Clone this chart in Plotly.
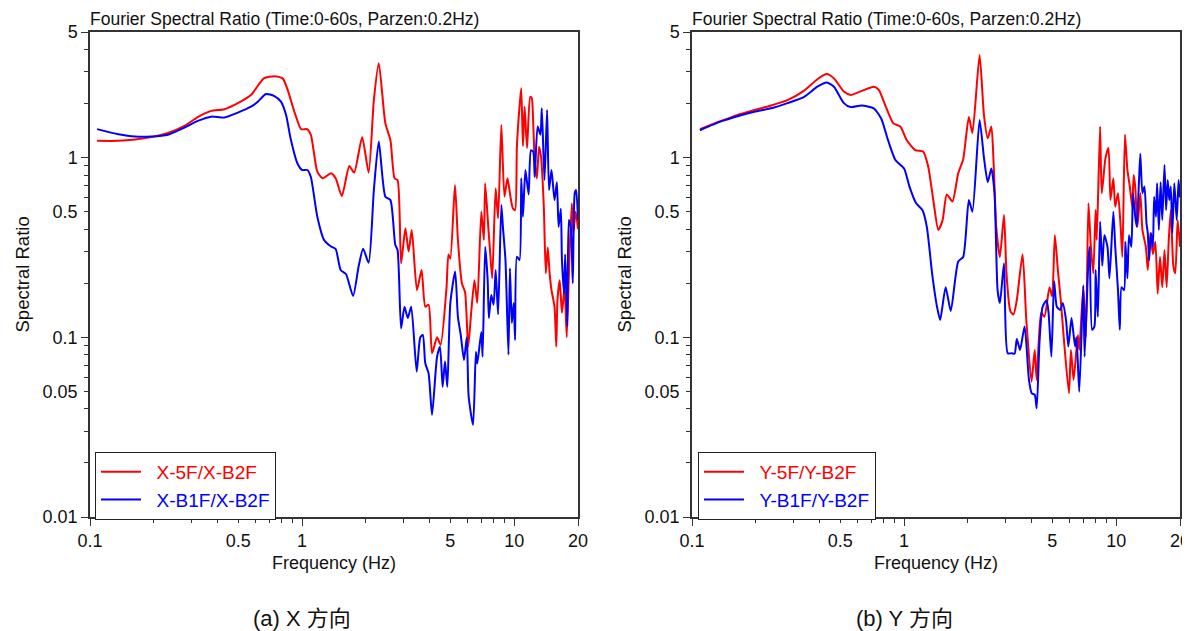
import plotly.graph_objects as go

# ---------------- data ----------------
fx_red = [0.108, 0.136, 0.163, 0.195, 0.233, 0.279, 0.322, 0.373, 0.43, 0.498, 0.574, 0.66, 0.74, 0.81, 0.855,
          0.92, 0.99, 1.055, 1.10, 1.18, 1.25, 1.37, 1.44, 1.54, 1.67, 1.76, 1.92, 2.06, 2.18, 2.30, 2.47, 2.61,
          2.73, 2.82, 2.93, 3.07, 3.18, 3.29, 3.48, 3.66, 3.81, 3.95, 4.1, 4.33, 4.5, 4.8, 4.9, 5.0, 5.26, 5.43,
          5.67, 5.87, 6.07, 6.28, 6.5, 6.7, 7.0, 7.2, 7.3, 7.55, 7.68, 7.88, 8.18, 8.4, 8.7, 9.0, 9.3, 9.55, 9.85,
          10.1, 10.3, 10.6, 10.8, 11.0, 11.2, 11.5, 11.9, 12.1, 12.3, 12.5, 12.8, 13.1, 13.4, 13.8, 14.1, 14.4,
          14.7, 15.0, 15.5, 15.8, 16.0, 16.4, 16.8, 17.3, 17.7, 18.2, 18.7, 19.0, 19.5, 20.0]
x_5f = [1.24, 1.24, 1.26, 1.30, 1.37, 1.50, 1.68, 1.82, 1.86, 2.01, 2.23, 2.76, 2.84, 2.76, 2.38,
        1.80, 1.44, 1.44, 1.34, 0.835, 0.767, 0.818, 0.767, 0.611, 0.898, 0.824, 1.30, 0.824, 2.09, 3.35, 1.55, 1.25,
        0.767, 0.75, 0.258, 0.404, 0.30, 0.396, 0.183, 0.237, 0.148, 0.152, 0.0815, 0.10, 0.0906, 0.191, 0.289, 0.274, 0.704, 0.348,
        0.20, 0.178, 0.0887, 0.14, 0.208, 0.155, 0.50, 0.348, 0.72, 0.412, 0.313, 0.213, 0.675, 0.459, 1.52, 0.606, 0.767, 0.634, 0.523,
        0.51, 1.15, 1.92, 2.43, 1.16, 1.92, 1.13, 2.18, 2.15, 1.55, 0.97, 0.767, 1.15, 1.0, 0.533, 0.227, 0.316,
        0.227, 0.183, 0.148, 0.0887, 0.161, 0.208, 0.137, 0.19, 0.10, 0.269, 0.557, 0.38, 0.50, 0.40]

fx_blue = [0.108, 0.136, 0.163, 0.195, 0.233, 0.279, 0.322, 0.373, 0.43, 0.498, 0.574, 0.62, 0.675, 0.74, 0.795,
           0.84, 0.885, 0.95, 1.0, 1.06, 1.10, 1.18, 1.27, 1.37, 1.44, 1.52, 1.61, 1.74, 1.85, 1.94, 2.06, 2.18,
           2.30, 2.47, 2.61, 2.75, 2.82, 2.93, 3.04, 3.15, 3.27, 3.47, 3.61, 3.71, 3.81, 3.95, 4.1, 4.33, 4.47,
           4.6, 4.72, 4.84, 5.0, 5.27, 5.43, 5.6, 5.8, 5.98, 6.1, 6.4, 6.6, 6.7, 7.0, 7.1, 7.3, 7.5, 7.6, 7.8, 8.0,
           8.18, 8.4, 8.7, 8.85, 9.1, 9.4, 9.55, 9.75, 9.95, 10.1, 10.3, 10.6, 10.8, 11.0, 11.3, 11.7, 12.0, 12.3,
           12.5, 12.9, 13.3, 13.5, 13.9, 14.3, 14.6, 15.0, 15.5, 15.9, 16.2, 16.6, 16.8, 17.2, 17.4, 17.8, 18.1,
           18.5, 18.9, 19.3, 19.6, 20.0]
x_b1f = [1.44, 1.35, 1.31, 1.31, 1.34, 1.47, 1.60, 1.69, 1.67, 1.78, 1.92, 2.05, 2.26, 2.20, 2.05,
         1.73, 1.26, 0.93, 0.853, 0.853, 0.78, 0.469, 0.348, 0.32, 0.31, 0.237, 0.225, 0.17, 0.25, 0.311, 0.26, 0.66,
         1.23, 0.606, 0.58, 0.327, 0.306, 0.112, 0.148, 0.128, 0.148, 0.0644, 0.10, 0.103, 0.0717, 0.063, 0.037, 0.078, 0.0887,
         0.053, 0.0735, 0.053, 0.155, 0.232, 0.130, 0.103, 0.0747, 0.10, 0.047, 0.0325, 0.083, 0.0714, 0.107, 0.078, 0.319, 0.208, 0.128, 0.172, 0.152,
         0.237, 0.134, 0.545, 0.412, 0.269, 0.08, 0.242, 0.12, 0.155, 0.0966, 0.281, 0.269, 0.767, 0.469, 0.853, 0.624, 1.10, 1.08,
         0.78, 1.49, 1.34, 1.88, 0.75, 1.84, 0.66, 0.853, 0.581, 0.73, 0.412, 0.52, 0.269, 0.175, 0.29, 0.115, 0.45,
         0.41, 0.20, 0.634, 0.66, 0.45]

fy_red = [0.109, 0.137, 0.164, 0.197, 0.236, 0.282, 0.338, 0.39, 0.432, 0.467, 0.52, 0.56, 0.62, 0.72, 0.76,
          0.82, 0.89, 0.96, 1.03, 1.13, 1.23, 1.30, 1.38, 1.45, 1.52, 1.59, 1.69, 1.80, 1.90, 2.02, 2.10, 2.27,
          2.38, 2.48, 2.58, 2.64, 2.72, 2.83, 2.96, 3.04, 3.17, 3.28, 3.40, 3.62, 3.77, 3.99, 4.13, 4.22, 4.43,
          4.59, 4.85, 4.99, 5.14, 5.31, 5.48, 5.66, 5.99, 6.12, 6.3, 6.6, 6.7, 7.0, 7.2, 7.4, 7.6, 7.8, 8.0, 8.1,
          8.4, 8.55, 8.9, 9.2, 9.4, 9.7, 9.9, 10.2, 10.5, 10.7, 11.0, 11.3, 11.6, 11.9, 12.1, 12.3, 12.6, 13.0,
          13.3, 13.8, 14.1, 14.5, 14.9, 15.3, 15.7, 16.1, 16.5, 16.9, 17.3, 17.7, 18.1, 18.6, 19.0, 19.5, 20.0]
y_5f = [1.44, 1.60, 1.73, 1.84, 1.95, 2.09, 2.36, 2.73, 2.92, 2.76, 2.33, 2.23, 2.33, 2.48, 2.38,
        1.92, 1.55, 1.49, 1.25, 1.10, 1.08, 0.89, 0.557, 0.396, 0.45, 0.624, 0.57, 0.818, 0.98, 1.68, 1.37, 3.72,
        1.73, 1.28, 1.49, 0.97, 0.412, 0.28, 0.48, 0.227, 0.14, 0.134, 0.161, 0.29, 0.125, 0.0566, 0.085, 0.058, 0.137,
        0.13, 0.19, 0.169, 0.37, 0.237, 0.161, 0.10, 0.0488, 0.085, 0.058, 0.103, 0.085, 0.19, 0.10, 0.557, 0.319, 0.227, 0.511, 0.348,
        1.49, 0.634, 0.99, 1.13, 0.581, 0.767, 0.533, 0.634, 0.412, 0.28, 1.34, 0.853, 0.69, 0.533, 0.80, 0.69, 0.412, 0.634,
        0.396, 0.319, 0.237, 0.38, 0.29, 0.34, 0.175, 0.28, 0.19, 0.306, 0.19, 0.348, 0.511, 0.25, 0.227, 0.45, 0.319]

fy_blue = [0.109, 0.137, 0.164, 0.197, 0.236, 0.282, 0.338, 0.39, 0.432, 0.467, 0.52, 0.56, 0.63, 0.72, 0.78,
           0.84, 0.91, 1.0, 1.06, 1.14, 1.22, 1.28, 1.36, 1.43, 1.48, 1.57, 1.66, 1.80, 1.90, 2.02, 2.10, 2.27,
           2.38, 2.48, 2.58, 2.67, 2.76, 2.83, 2.96, 3.08, 3.22, 3.32, 3.40, 3.52, 3.70, 3.88, 4.0, 4.13, 4.22,
           4.35, 4.5, 4.7, 4.8, 4.95, 5.1, 5.25, 5.45, 5.6, 5.8, 5.95, 6.16, 6.4, 6.5, 6.7, 7.0, 7.1, 7.4, 7.5,
           7.7, 7.9, 8.0, 8.2, 8.4, 8.6, 8.8, 9.1, 9.3, 9.7, 9.9, 10.2, 10.4, 10.6, 10.9, 11.05, 11.3, 11.5, 11.8,
           12.0, 12.3, 12.5, 12.8, 13.0, 13.3, 13.6, 13.9, 14.1, 14.3, 14.6, 14.9, 15.1, 15.4, 15.6, 15.9, 16.2,
           16.5, 16.9, 17.2, 17.5, 17.8, 18.1, 18.4, 18.8, 19.3, 19.7, 20.0]
y_b1f = [1.42, 1.59, 1.70, 1.80, 1.88, 2.01, 2.18, 2.48, 2.62, 2.48, 2.01, 1.91, 1.95, 1.88, 1.65,
         1.25, 0.97, 0.87, 0.69, 0.557, 0.511, 0.412, 0.22, 0.148, 0.125, 0.19, 0.14, 0.264, 0.28, 0.58, 0.50, 1.62,
         1.0, 0.73, 0.87, 0.634, 0.183, 0.155, 0.258, 0.0815, 0.0815, 0.081, 0.098, 0.085, 0.115, 0.058, 0.0488, 0.048, 0.0403,
         0.094, 0.148, 0.161, 0.137, 0.078, 0.205, 0.148, 0.142, 0.155, 0.125, 0.089, 0.128, 0.089, 0.10, 0.0497, 0.195, 0.078, 0.269, 0.319,
         0.11, 0.115, 0.237, 0.13, 0.44, 0.25, 0.37, 0.319, 0.213, 0.50, 0.319, 0.183, 0.11, 0.19, 0.183, 0.34, 0.213, 0.37, 0.319,
         0.634, 0.469, 0.412, 0.72, 1.05, 0.634, 0.69, 0.43, 0.38, 0.269, 0.38, 0.319, 0.606, 0.469, 0.72, 0.396, 0.73,
         0.45, 0.91, 0.511, 0.75, 0.58, 0.69, 0.38, 0.72, 0.45, 0.75, 0.60]

x_ticks = [0.1, 0.5, 1, 5, 10, 20]
x_ticktext = ["0.1", "0.5", "1", "5", "10", "20"]
x_minor = [0.2, 0.3, 0.4, 0.6, 0.7, 0.8, 0.9, 2, 3, 4, 6, 7, 8, 9]
x_long = [0.1, 1, 10, 20]
y_ticks = [0.01, 0.05, 0.1, 0.5, 1, 5]
y_ticktext = ["0.01", "0.05", "0.1", "0.5", "1", "5"]
y_minor = [0.02, 0.03, 0.04, 0.06, 0.07, 0.08, 0.09, 0.2, 0.3, 0.4, 0.6, 0.7, 0.8, 0.9, 2, 3, 4]
y_long = [0.01, 0.1, 1, 5]

title_text = "Fourier Spectral Ratio (Time:0-60s, Parzen:0.2Hz)"
captions = ["(a) X 方向", "(b) Y 方向"]
names_left = ["X-5F/X-B2F", "X-B1F/X-B2F"]
names_right = ["Y-5F/Y-B2F", "Y-B1F/Y-B2F"]

RED = "#ff0000"
BLUE = "#0000ff"
FONT = "Liberation Sans, Arial, sans-serif"
AXC = "#333333"
TXT = "#111111"

# page offset (default body margin) -> figure drawn 8px in from the window edge
OFF = 8
W, H = 1190 - OFF, 631 - OFF
# plot area pixel bounds (window coordinates)
LX0, LX1 = 90, 578
RX0, RX1 = 692, 1180
PY0, PY1 = 32, 517

def fx(px):
    return (px - OFF) / W

def fy(py):
    return 1 - (py - OFF) / H

fig = go.Figure()

def add(xv, yv, name, color, xa, ya, legend):
    fig.add_trace(go.Scatter(
        x=xv, y=yv, mode="lines", xaxis=xa, yaxis=ya,
        name=f"<span style='color:{color}'>\u00a0\u00a0{name}</span>",
        line=dict(color=color, width=2, shape="spline", smoothing=0.6),
        legend=legend, hoverinfo="skip"))

add(fx_red, x_5f, names_left[0], RED, "x", "y", "legend")
add(fx_blue, x_b1f, names_left[1], BLUE, "x", "y", "legend")
add(fy_red, y_5f, names_right[0], RED, "x2", "y2", "legend2")
add(fy_blue, y_b1f, names_right[1], BLUE, "x2", "y2", "legend2")

xr = [-1, 1.30103]
yr = [-2, 0.69897]
ydom = [fy(PY1), fy(PY0)]

def xaxis_main(dom, anchor):
    return dict(type="log", range=xr, domain=dom, anchor=anchor, automargin=False,
                showline=True, mirror=True, linecolor=AXC, linewidth=1.5,
                showgrid=False, zeroline=False,
                tickmode="array", tickvals=x_ticks, ticktext=x_ticktext,
                ticks="outside", ticklen=4, tickwidth=1.2, tickcolor=AXC,
                ticklabelstandoff=3, ticklabeloverflow="allow",
                tickfont=dict(family=FONT, size=18, color=TXT),
                minor=dict(tickmode="array", tickvals=x_minor, ticks="outside",
                           ticklen=4, tickwidth=1.2, tickcolor=AXC, showgrid=False))

def yaxis_main(anchor):
    return dict(type="log", range=yr, domain=ydom, anchor=anchor, automargin=False,
                showline=True, mirror=True, linecolor=AXC, linewidth=1.5,
                showgrid=False, zeroline=False,
                tickmode="array", tickvals=y_ticks, ticktext=y_ticktext,
                ticks="outside", ticklen=4, tickwidth=1.2, tickcolor=AXC,
                ticklabelstandoff=3,
                tickfont=dict(family=FONT, size=18, color=TXT),
                minor=dict(tickmode="array", tickvals=y_minor, ticks="outside",
                           ticklen=4, tickwidth=1.2, tickcolor=AXC, showgrid=False))

def xaxis_long(over, anchor, dom):
    return dict(type="log", range=xr, domain=dom, overlaying=over, anchor=anchor, automargin=False,
                showline=False, showgrid=False, zeroline=False, showticklabels=False,
                tickmode="array", tickvals=x_long, ticks="outside", ticklen=8,
                tickwidth=1.2, tickcolor=AXC)

def yaxis_long(over, anchor):
    return dict(type="log", range=yr, domain=ydom, overlaying=over, anchor=anchor, automargin=False,
                showline=False, showgrid=False, zeroline=False, showticklabels=False,
                tickmode="array", tickvals=y_long, ticks="outside", ticklen=8,
                tickwidth=1.2, tickcolor=AXC)

ldom = [fx(LX0), fx(LX1)]
rdom = [fx(RX0), fx(RX1)]

# invisible traces so the long-tick overlay axes are drawn
fig.add_trace(go.Scatter(x=[None], y=[None], xaxis="x3", yaxis="y3", showlegend=False, hoverinfo="skip"))
fig.add_trace(go.Scatter(x=[None], y=[None], xaxis="x4", yaxis="y4", showlegend=False, hoverinfo="skip"))

legend_common = dict(bordercolor="#222", borderwidth=1, bgcolor="white",
                     font=dict(family=FONT, size=19), xanchor="left", yanchor="top",
                     tracegroupgap=0, itemwidth=40)

fig.update_layout(
    template="none",
    width=W, height=H, margin=dict(l=0, r=0, t=0, b=0, autoexpand=False),
    paper_bgcolor="white", plot_bgcolor="white",
    xaxis=xaxis_main(ldom, "y"), yaxis=yaxis_main("x"),
    xaxis2=xaxis_main(rdom, "y2"), yaxis2=yaxis_main("x2"),
    xaxis3=xaxis_long("x", "y", ldom), yaxis3=yaxis_long("y", "x"),
    xaxis4=xaxis_long("x2", "y2", rdom), yaxis4=yaxis_long("y2", "x2"),
    legend=dict(x=fx(95), y=fy(452), **legend_common),
    legend2=dict(x=fx(698), y=fy(452), **legend_common),
    showlegend=True,
)

annots = []
for x0, x1, cap in [(LX0, LX1, captions[0]), (RX0, RX1, captions[1])]:
    annots.append(dict(text=title_text, x=fx(x0 - 2), y=fy(19), xref="paper", yref="paper",
                       xanchor="left", yanchor="middle", showarrow=False,
                       font=dict(family=FONT, size=17.5, color=TXT)))
    annots.append(dict(text="Frequency (Hz)", x=fx((x0 + x1) / 2), y=fy(563), xref="paper", yref="paper",
                       xanchor="center", yanchor="middle", showarrow=False,
                       font=dict(family=FONT, size=18, color=TXT)))
    annots.append(dict(text="Spectral Ratio", x=fx(x0 - 68), y=fy((PY0 + PY1) / 2), xref="paper", yref="paper",
                       xanchor="center", yanchor="middle", showarrow=False, textangle=-90,
                       font=dict(family=FONT, size=18.5, color=TXT)))
    annots.append(dict(text=cap, x=fx((x0 + x1) / 2 - 32), y=fy(618), xref="paper", yref="paper",
                       xanchor="center", yanchor="middle", showarrow=False,
                       font=dict(family="Liberation Sans, Noto Sans CJK SC", size=22, color=TXT)))
fig.update_layout(annotations=annots)

fig.write_html("out.html")
